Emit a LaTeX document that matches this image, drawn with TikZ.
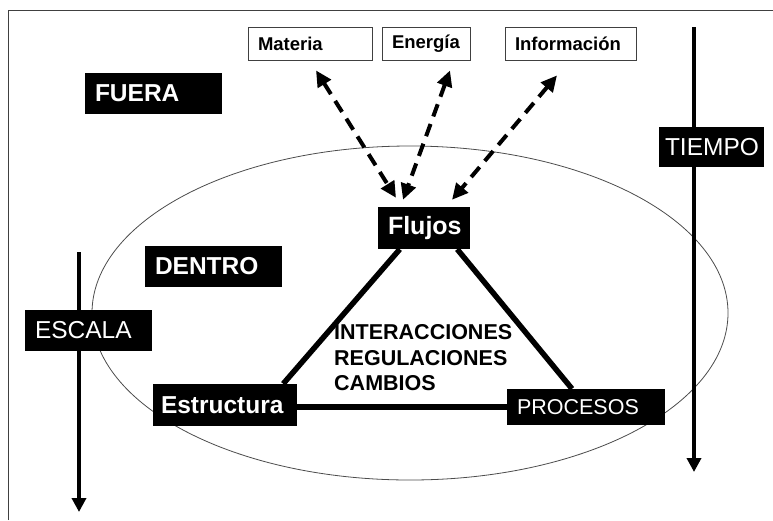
\documentclass[tikz,border=0pt]{standalone}
\usepackage{fontspec}
\setmainfont{Liberation Sans}
\usetikzlibrary{arrows.meta, positioning, backgrounds}
\tikzset{
    % Boxes
    darkbox/.style = {fill=black, text=white, inner xsep=10pt, inner ysep=0pt,
        minimum height=41pt, align=left, font=\fontsize{24.5}{28}\selectfont},
    darkbold/.style = {darkbox, font=\bfseries\fontsize{24.5}{28}\selectfont},
    flowbox/.style = {draw=black!75, line width=0.8pt, fill=white, inner xsep=10pt,
        inner ysep=0pt, minimum height=33pt, align=left,
        font=\bfseries\fontsize{18.5}{20}\selectfont},
    % Edges
    side/.style = {line width=5.5pt},
    axis/.style = {line width=4.5pt, -{Triangle[length=14pt, width=14pt]}},
    exchange/.style = {line width=4pt, dash pattern=on 13pt off 8pt,
        {Triangle[length=16pt, width=15pt]}-{Triangle[length=16pt, width=15pt]}},
    note/.style = {font=\bfseries\fontsize{21.5}{25.5}\selectfont, align=left, inner sep=0pt}
}

\begin{document}
\begin{tikzpicture}[x=1pt, y=-1pt]
    \useasboundingbox (0,0) rectangle (773,520);
    \draw[black!75, line width=1pt] (8,520) -- (8,10) -- (773,10);

    % the system
    \draw[black!70, line width=0.8pt] (410,313) ellipse [x radius=318, y radius=167];

    \coordinate (escala top) at (79,252);
    \coordinate (escala end) at (79,512);
    \coordinate (tiempo top) at (694,27);
    \coordinate (tiempo end) at (694,472);
    \draw[axis] (escala top) -- (escala end);
    \draw[axis] (tiempo top) -- (tiempo end);

    \node (fuera) [darkbold, text width=117pt] at (153.5,93) {FUERA};
    \node (dentro) [darkbold, text width=117pt] at (213.5,266) {DENTRO};
    \node (escala) [darkbox, text width=107pt] at (88.5,330) {ESCALA};
    \node (tiempo) [darkbox, inner xsep=6pt, text width=93pt, minimum height=40pt] at (711.5,147) {TIEMPO};

    \node (materia) [flowbox, text width=104pt] at (310,43.5) {Materia};
    \node (energia) [flowbox, text width=68pt] at (426,43.5) {Energía};
    \node (informacion) [flowbox, text width=111pt] at (570.5,43.5) {Información};

    \node (flujos) [darkbold, text width=72pt, align=center, minimum height=42pt,
        font=\bfseries\fontsize{25}{28}\selectfont] at (424,228) {Flujos};
    \node (estructura) [darkbold, inner xsep=8pt, text width=128pt, minimum height=42pt] at (225,405) {Estructura};
    \node (procesos) [darkbox, text width=138pt, minimum height=36pt,
        font=\fontsize{21.5}{25}\selectfont] at (586,407) {PROCESOS};

    \node (cambios) [note, anchor=west] at (334,358) {INTERACCIONES\\REGULACIONES\\CAMBIOS};

    % triangle of the system
    \draw[side] ([xshift=22pt]flujos.south west) -- ([xshift=-14pt]estructura.north east);
    \draw[side] ([xshift=-13pt]flujos.south east) -- ([xshift=-14pt]procesos.north);
    \draw[side] (estructura.east |- procesos.west) -- (procesos.west);

    % exchanges with the outside
    \draw[exchange] ([shift={(6,10)}]materia.south) -- ([shift={(-28,-9)}]flujos.north);
    \draw[exchange] ([shift={(24,10)}]energia.south) -- ([shift={(-21,-7)}]flujos.north);
    \draw[exchange] ([shift={(-13.5,15)}]informacion.south) -- ([shift={(28,-7)}]flujos.north);
\end{tikzpicture}
\end{document}
